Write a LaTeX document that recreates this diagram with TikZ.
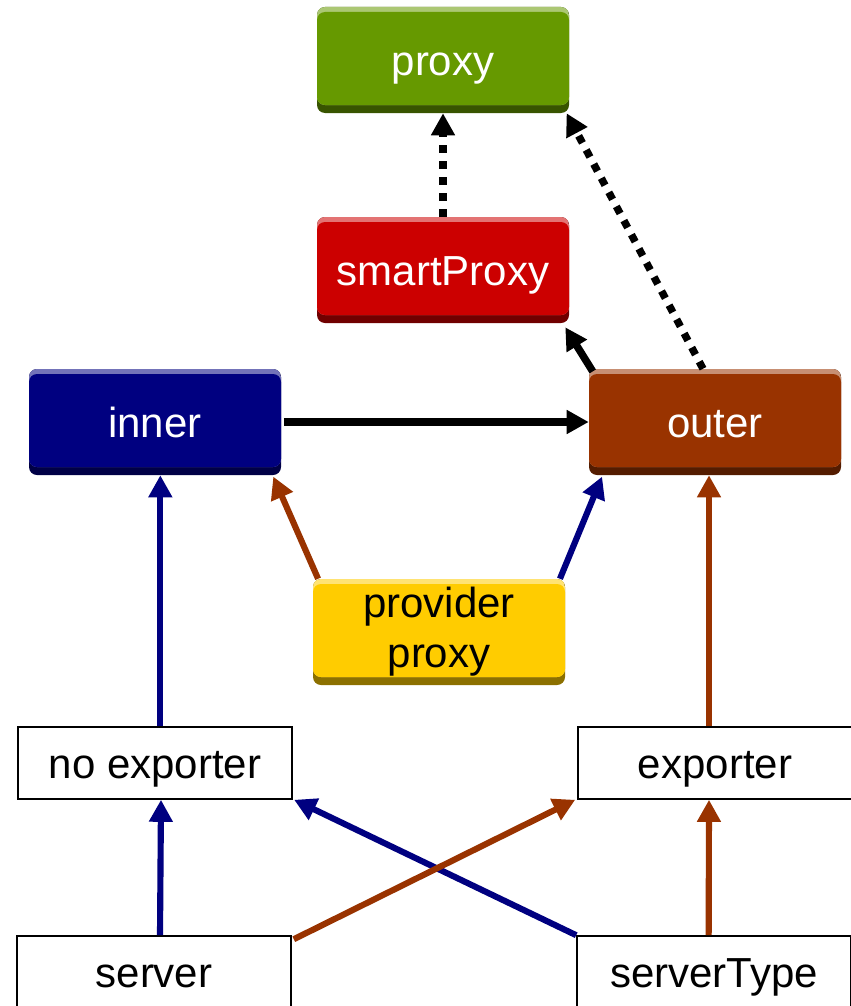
\documentclass[tikz,border=0pt]{standalone}
\usepackage{fontspec}
\setmainfont{Liberation Sans}
\usetikzlibrary{arrows.meta}
\definecolor{prgreen}{HTML}{669900}
\definecolor{prred}{HTML}{CC0000}
\definecolor{prnavy}{HTML}{000080}
\definecolor{prbrown}{HTML}{993300}
\definecolor{pryellow}{HTML}{FFCC00}
\tikzset{
  lbl/.style={font=\fontsize{31.5}{37.5}\selectfont},
  oneline/.style={text height=23.2pt, text depth=0pt},
  btn/.style={lbl, rectangle, rounded corners=6pt, minimum width=189pt,
    minimum height=79.5pt, inner sep=0pt, align=center, text=white,
    fill=#1!55!black,
    path picture={
      \fill[#1!55!white, rounded corners=6pt]
        (path picture bounding box.north west) rectangle
        ([yshift=6pt]path picture bounding box.south east);
      \fill[#1, rounded corners=6pt]
        ([yshift=-3.75pt]path picture bounding box.north west) rectangle
        ([yshift=6pt]path picture bounding box.south east);
    }},
  plainbox/.style={lbl, oneline, rectangle, draw=black, line width=1.2pt, fill=white,
    minimum width=205.5pt, minimum height=54pt, inner sep=0pt},
  tip/.style={-{Triangle[length=16.5pt,width=17pt]}},
  blk/.style={tip, draw=black, line width=5.6pt},
  dotarr/.style={blk, dash pattern=on 6pt off 6pt},
  blu/.style={tip, draw=prnavy, line width=4.6pt},
  brn/.style={tip, draw=prbrown, line width=4.6pt},
}
\begin{document}
\begin{tikzpicture}[x=0.75pt,y=-0.75pt]
\useasboundingbox (0,0) rectangle (850,1006);

% coloured boxes
\node[btn=prgreen, oneline] (proxy) at (443,60) {proxy};
\node[btn=prred, oneline] (smart) at (443,270) {smartProxy};
\node[btn=prnavy, oneline] (inner) at (155,422) {inner};
\node[btn=prbrown, oneline] (outer) at (715,422) {outer};
\node[btn=pryellow, text=black] (provider) at (439,632) {provider\\proxy};

% plain boxes
\node[plainbox] (noexp) at (155,763) {no exporter};
\node[plainbox] (exp) at (715,763) {exporter};
\node[plainbox] (server) at (154,972) {server};
\node[plainbox] (stype) at (714,972) {serverType};

% black connectors
\draw[dotarr] (smart.north) -- (proxy.south);
\draw[dotarr] ([xshift=-9pt]outer.north) -- ([xshift=-2pt]proxy.south east);
\draw[blk] ([xshift=3pt,yshift=-2pt]outer.north west) -- ([xshift=-3pt,yshift=-3pt]smart.south east);
\draw[blk] ([xshift=2pt]inner.east) -- (outer.west);

% coloured connectors
\draw[blu] ([xshift=4pt]noexp.north) -- ([xshift=4pt]inner.south);
\draw[brn] ([xshift=4pt]provider.north west) -- ([xshift=-6pt,yshift=-1pt]inner.south east);
\draw[blu] ([xshift=-4pt]provider.north east) -- ([xshift=10pt,yshift=-1pt]outer.south west);
\draw[brn] ([xshift=-4.5pt]exp.north) -- ([xshift=-4.5pt]outer.south);
\draw[blu] ([xshift=4.5pt]server.north) -- ([xshift=4.5pt]noexp.south);
\draw[blu] (stype.north west) -- ([xshift=1pt]noexp.south east);
\draw[brn] ([xshift=1.5pt,yshift=-3pt]server.north east) -- ([xshift=-1.5pt]exp.south west);
\draw[brn] ([xshift=-4pt]stype.north) -- ([xshift=-4.5pt]exp.south);
\end{tikzpicture}
\end{document}
